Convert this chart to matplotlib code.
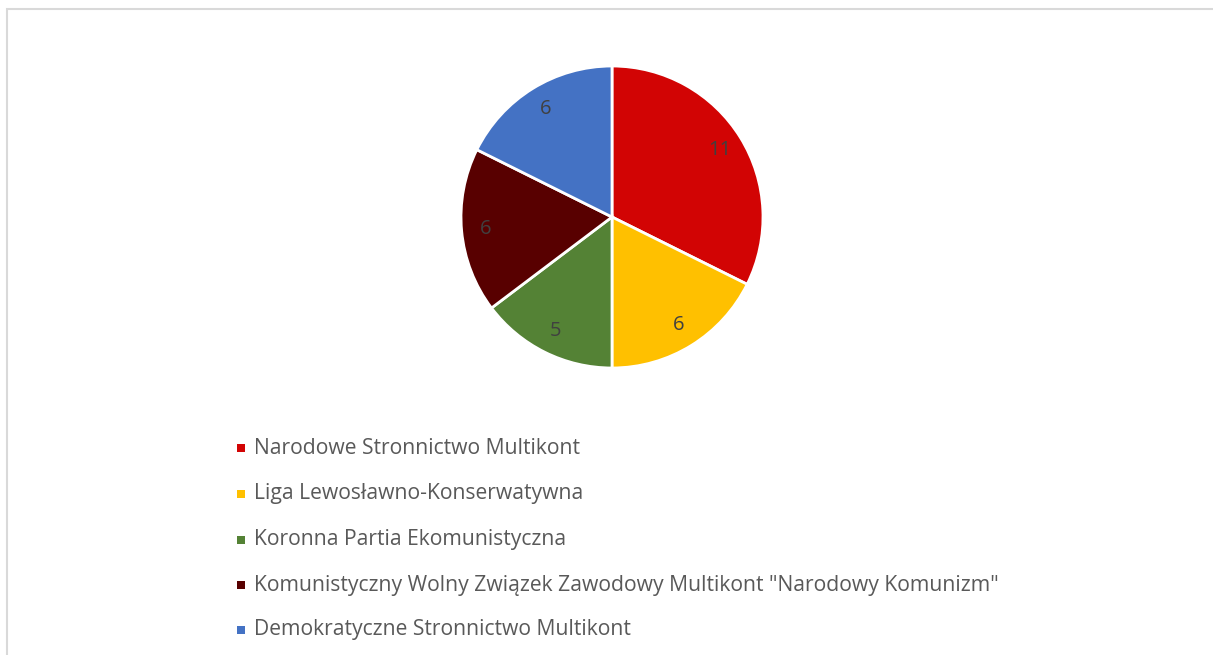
import matplotlib
matplotlib.use("Agg")
import matplotlib.pyplot as plt
from matplotlib.patches import Rectangle

labels = [
    "Narodowe Stronnictwo Multikont",
    "Liga Lewosławno-Konserwatywna",
    "Koronna Partia Ekomunistyczna",
    'Komunistyczny Wolny Związek Zawodowy Multikont "Narodowy Komunizm"',
    "Demokratyczne Stronnictwo Multikont",
]
values = [11, 6, 5, 6, 6]
colors = ["#D20404", "#FFC000", "#548235", "#580000", "#4472C4"]

plt.rcParams["font.family"] = ["Open Sans", "DejaVu Sans"]

W, H = 1213, 655
fig = plt.figure(figsize=(W / 100, H / 100), dpi=100)

# chart area border (right and bottom are cut off)
fig.patches.append(Rectangle((7 / W, -0.1), 1.2, (H - 9) / H + 0.1,
                             transform=fig.transFigure, fill=False,
                             edgecolor="#d9d9d9", linewidth=1.5))

cx, cy, r = 612, H - 217, 151
ax = fig.add_axes([(cx - r) / W, (cy - r) / H, 2 * r / W, 2 * r / H])
ax.pie(values, colors=colors, startangle=90, counterclock=False,
       labels=[str(v) for v in values], labeldistance=0.84,
       wedgeprops=dict(edgecolor="white", linewidth=2),
       textprops=dict(color="#404040", fontsize=14.5, ha="center", va="center"))
ax.set_xlim(-1, 1)
ax.set_ylim(-1, 1)

# legend
ys = [448, 494, 540, 585, 630]
for lab, col, y in zip(labels, colors, ys):
    fig.patches.append(Rectangle((237 / W, (H - y - 4) / H), 8 / W, 8 / H,
                                 transform=fig.transFigure, facecolor=col,
                                 edgecolor="none"))
    fig.text(254 / W, (H - y) / H, lab, fontsize=15.2, color="#595959",
             ha="left", va="center")

fig.savefig("out.png", dpi=100)
